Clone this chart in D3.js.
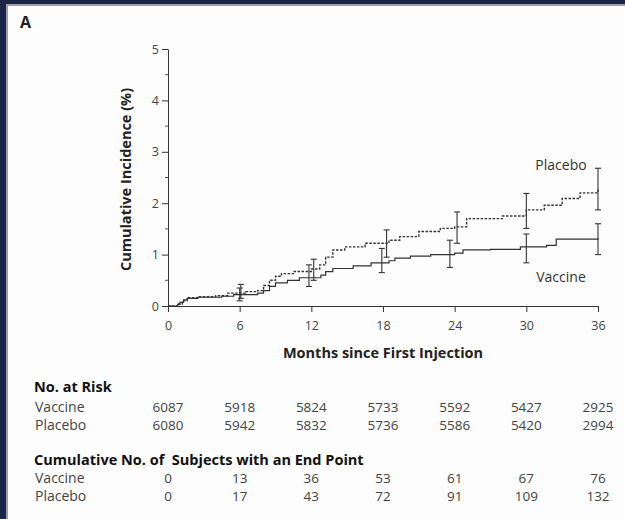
<!DOCTYPE html>
<html>
<head>
<meta charset="utf-8">
<script src="https://cdn.jsdelivr.net/npm/d3@7"></script>
<style>
  html, body { margin: 0; padding: 0; background: #1b2548; }
  svg { display: block; }
  text { font-family: "Open Sans", "Noto Sans", sans-serif; }
</style>
</head>
<body>
<div id="chart"></div>
<script>
// Kaplan-Meier style curves (month, cumulative incidence %)
const vaccineMonths = [0, 0.8, 1.0, 1.3, 1.6, 2.5, 4.5, 5.5, 7.5, 8, 8.5, 9, 10, 11, 12.8, 13.2, 13.8, 15.5, 17, 18.5, 19, 20.3, 22, 24, 24.7, 27, 29.5, 31.7, 32.5, 36];
const vaccineValues = [0, 0.03, 0.07, 0.12, 0.15, 0.17, 0.19, 0.22, 0.25, 0.3, 0.38, 0.45, 0.5, 0.55, 0.6, 0.67, 0.73, 0.78, 0.84, 0.88, 0.93, 0.97, 1.0, 1.03, 1.09, 1.1, 1.15, 1.18, 1.3, 1.32];

const placeboMonths = [0, 0.8, 1.2, 1.6, 2.5, 4, 5, 6.5, 7.5, 8, 8.5, 9, 9.5, 10.5, 12, 12.7, 13.2, 13.8, 14.8, 16.5, 18.5, 19.4, 21, 22.8, 24, 25, 28, 30, 31.5, 33, 34.5, 36];
const placeboValues = [0, 0.04, 0.1, 0.16, 0.18, 0.2, 0.25, 0.28, 0.3, 0.4, 0.5, 0.58, 0.63, 0.67, 0.72, 0.8, 0.95, 1.09, 1.15, 1.22, 1.28, 1.35, 1.45, 1.51, 1.54, 1.70, 1.75, 1.87, 1.96, 2.09, 2.2, 2.27];

// 95% CI bars at 6-month marks
const vaccineCiX = [6, 11.8, 17.9, 23.6, 30, 36];
const vaccineCiLow = [0.1, 0.38, 0.65, 0.75, 0.84, 1.0];
const vaccineCiHigh = [0.35, 0.8, 1.12, 1.28, 1.4, 1.6];
const placeboCiX = [6.1, 12.2, 18.3, 24.2, 30, 36];
const placeboCiLow = [0.15, 0.5, 0.95, 1.22, 1.51, 1.87];
const placeboCiHigh = [0.42, 0.91, 1.48, 1.83, 2.19, 2.68];

// risk table
const riskGroups = ["Vaccine", "Placebo"];
const atRiskVaccine = [6087, 5918, 5824, 5733, 5592, 5427, 2925];
const atRiskPlacebo = [6080, 5942, 5832, 5736, 5586, 5420, 2994];
const eventsVaccine = [0, 13, 36, 53, 61, 67, 76];
const eventsPlacebo = [0, 17, 43, 72, 91, 109, 132];
const tableMonths = [0, 6, 12, 18, 24, 30, 36];

const width = 625, height = 519;

const svg = d3.select("#chart").append("svg")
  .attr("width", width)
  .attr("height", height);

// white panel with thin grey edge
svg.append("rect")
  .attr("x", 7).attr("y", 5)
  .attr("width", width).attr("height", height)
  .attr("fill", "#fdfdfd")
  .attr("stroke", "#a0a0a0")
  .attr("stroke-width", 2);

svg.append("text")
  .attr("x", 20).attr("y", 28)
  .attr("font-size", 16).attr("font-weight", "bold")
  .attr("fill", "#222")
  .text("A");

const x = d3.scaleLinear().domain([0, 36]).range([168, 598]);
const y = d3.scaleLinear().domain([0, 5]).range([306, 49]);

// x axis
const xAxis = svg.append("g")
  .attr("transform", `translate(0, ${y(0)})`)
  .call(d3.axisBottom(x).tickValues(tableMonths).tickSize(6).tickSizeOuter(0));
xAxis.select(".domain").attr("stroke", "#333");
xAxis.selectAll(".tick line").attr("stroke", "#333");
xAxis.selectAll("text")
  .attr("font-size", 12.5).attr("fill", "#444").attr("y", 15)
  .style("font-family", "'Open Sans', sans-serif");

// y axis with half-step minor ticks
const yAxis = svg.append("g")
  .attr("transform", `translate(${x(0)}, 0)`)
  .call(d3.axisLeft(y).tickValues([0, 1, 2, 3, 4, 5]).tickFormat(d3.format("d")).tickSize(6).tickSizeOuter(0));
yAxis.select(".domain").attr("stroke", "#333");
yAxis.selectAll(".tick line").attr("stroke", "#333");
yAxis.selectAll("text")
  .attr("font-size", 12.5).attr("fill", "#444").attr("x", -9)
  .style("font-family", "'Open Sans', sans-serif");

svg.append("g")
  .selectAll("line")
  .data([0.5, 1.5, 2.5, 3.5, 4.5])
  .join("line")
  .attr("x1", x(0) - 3).attr("x2", x(0))
  .attr("y1", d => y(d)).attr("y2", d => y(d))
  .attr("stroke", "#555");

svg.append("text")
  .attr("transform", `translate(131, ${(y(0) + y(5)) / 2 + 2}) rotate(-90)`)
  .attr("text-anchor", "middle")
  .attr("font-size", 14.5).attr("font-weight", "bold").attr("fill", "#222")
  .text("Cumulative Incidence (%)");

svg.append("text")
  .attr("x", x(18)).attr("y", 358)
  .attr("text-anchor", "middle")
  .attr("font-size", 14.5).attr("font-weight", "bold").attr("fill", "#222")
  .text("Months since First Injection");

// curves
const line = d3.line()
  .x(d => x(d[0]))
  .y(d => y(d[1]))
  .curve(d3.curveStepAfter);

svg.append("path")
  .datum(d3.zip(vaccineMonths, vaccineValues))
  .attr("d", line)
  .attr("fill", "none")
  .attr("stroke", "#333")
  .attr("stroke-width", 1.2);

svg.append("path")
  .datum(d3.zip(placeboMonths, placeboValues))
  .attr("d", line)
  .attr("fill", "none")
  .attr("stroke", "#333")
  .attr("stroke-width", 1.4)
  .attr("stroke-dasharray", "2.5,1.5");

// CI bars
function drawCi(xs, lows, highs) {
  const g = svg.append("g").attr("stroke", "#333").attr("stroke-width", 1.1);
  const data = d3.zip(xs, lows, highs);
  g.selectAll(".v").data(data).join("line")
    .attr("x1", d => x(d[0])).attr("x2", d => x(d[0]))
    .attr("y1", d => y(d[1])).attr("y2", d => y(d[2]));
  g.selectAll(".t").data(data).join("line")
    .attr("x1", d => x(d[0]) - 3).attr("x2", d => x(d[0]) + 3)
    .attr("y1", d => y(d[2])).attr("y2", d => y(d[2]));
  g.selectAll(".b").data(data).join("line")
    .attr("x1", d => x(d[0]) - 3).attr("x2", d => x(d[0]) + 3)
    .attr("y1", d => y(d[1])).attr("y2", d => y(d[1]));
}
drawCi(vaccineCiX, vaccineCiLow, vaccineCiHigh);
drawCi(placeboCiX, placeboCiLow, placeboCiHigh);

// series labels
svg.append("text")
  .attr("x", 561).attr("y", 170)
  .attr("text-anchor", "middle")
  .attr("font-size", 14).attr("fill", "#333")
  .text("Placebo");
svg.append("text")
  .attr("x", 561).attr("y", 282)
  .attr("text-anchor", "middle")
  .attr("font-size", 14).attr("fill", "#333")
  .text("Vaccine");

// risk table
function header(txt, yy) {
  svg.append("text")
    .attr("x", 34).attr("y", yy)
    .attr("font-size", 14.5).attr("font-weight", "bold").attr("fill", "#111")
    .style("white-space", "pre")
    .text(txt);
}
function row(label, values, yy) {
  svg.append("text")
    .attr("x", 35).attr("y", yy)
    .attr("font-size", 14).attr("fill", "#444")
    .text(label);
  svg.append("g")
    .selectAll("text")
    .data(values)
    .join("text")
    .attr("x", (d, i) => x(tableMonths[i]))
    .attr("y", yy)
    .attr("text-anchor", "middle")
    .attr("font-size", 13.5).attr("fill", "#444")
    .text(d => d);
}

header("No. at Risk", 392);
row(riskGroups[0], atRiskVaccine, 412);
row(riskGroups[1], atRiskPlacebo, 430);
header("Cumulative No. of  Subjects with an End Point", 465);
row(riskGroups[0], eventsVaccine, 483);
row(riskGroups[1], eventsPlacebo, 501);
</script>
</body>
</html>
